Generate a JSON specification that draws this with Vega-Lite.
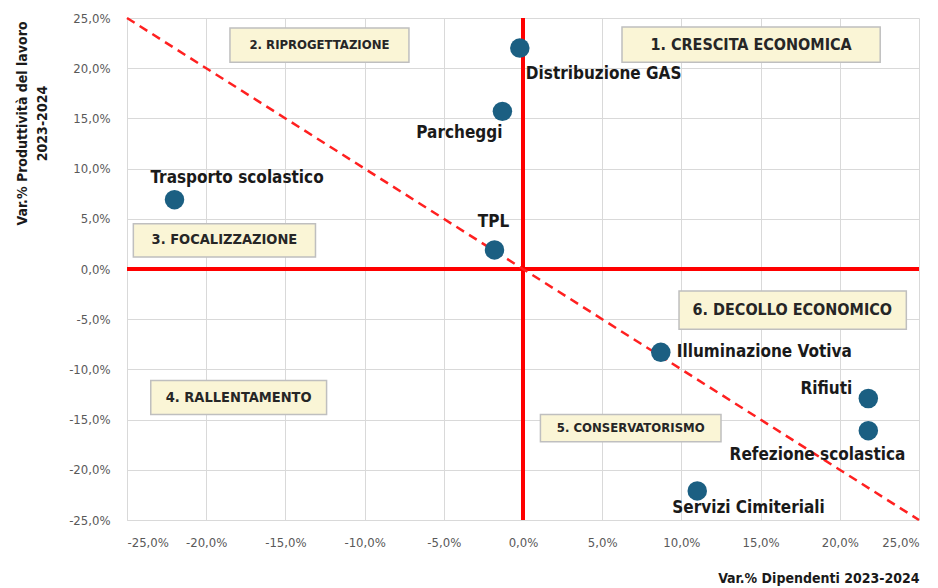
{
  "$schema": "https://vega.github.io/schema/vega-lite/v6.json",
  "width": 792,
  "height": 502,
  "autosize": {"type": "none"},
  "padding": {"left": 127, "top": 18, "right": 19, "bottom": 68},
  "background": "white",
  "config": {
    "view": {"stroke": null},
    "font": "Liberation Sans Narrow, DejaVu Sans Condensed, sans-serif",
    "text": {"font": "Liberation Sans Narrow, DejaVu Sans Condensed, sans-serif"}
  },
  "datasets": {
    "points": [
      {"name": "Distribuzione GAS", "x": -0.2, "y": 22.0},
      {"name": "Parcheggi", "x": -1.3, "y": 15.7},
      {"name": "Trasporto scolastico", "x": -22.0, "y": 6.9},
      {"name": "TPL", "x": -1.8, "y": 1.9},
      {"name": "Illuminazione Votiva", "x": 8.7, "y": -8.3},
      {"name": "Rifiuti", "x": 21.8, "y": -12.9},
      {"name": "Refezione scolastica", "x": 21.8, "y": -16.1},
      {"name": "Servizi Cimiteriali", "x": 11.0, "y": -22.1}
    ],
    "boxes": [
      {"label": "1. CRESCITA ECONOMICA", "x": 6.25, "x2": 22.55, "y": 24.1, "y2": 20.6, "cx": 14.4, "cy": 22.35},
      {"label": "2. RIPROGETTAZIONE", "x": -18.5, "x2": -7.2, "y": 24.0, "y2": 20.6, "cx": -12.85, "cy": 22.3},
      {"label": "3. FOCALIZZAZIONE", "x": -24.6, "x2": -13.1, "y": 4.5, "y2": 1.2, "cx": -18.85, "cy": 2.85},
      {"label": "4. RALLENTAMENTO", "x": -23.5, "x2": -12.4, "y": -11.1, "y2": -14.5, "cx": -17.95, "cy": -12.8},
      {"label": "5. CONSERVATORISMO", "x": 1.1, "x2": 12.5, "y": -14.5, "y2": -17.2, "cx": 6.8, "cy": -15.85},
      {"label": "6. DECOLLO ECONOMICO", "x": 9.85, "x2": 24.2, "y": -2.2, "y2": -6.0, "cx": 17.0, "cy": -4.1}
    ],
    "diag": [
      {"x": -25, "y": 25},
      {"x": 25, "y": -25}
    ],
    "redlines": [
      {"seg": "h", "x": -25, "y": 0},
      {"seg": "h", "x": 25, "y": 0},
      {"seg": "v", "x": 0, "y": -25},
      {"seg": "v", "x": 0, "y": 25}
    ]
  },
  "encoding": {
    "x": {
      "field": "x",
      "type": "quantitative",
      "scale": {"domain": [-25, 25], "nice": false, "zero": false},
      "axis": {
        "values": [-25, -20, -15, -10, -5, 0, 5, 10, 15, 20, 25],
        "labelExpr": "replace(replace(format(datum.value, '.1f'), '.', ','), '\u2212', '-') + '%'",
        "labelFontSize": 13,
        "labelColor": "#595959",
        "labelPadding": 16,
        "ticks": false,
        "domainColor": "#D9D9D9",
        "gridColor": "#D9D9D9",
        "title": "Var.% Dipendenti 2023-2024",
        "titleFontSize": 14,
        "titleFontWeight": "bold",
        "titleColor": "#1a1a1a",
        "titleAnchor": "end",
        "titleAlign": "right",
        "titleX": 792,
        "titleY": 58,
        "titleBaseline": "middle"
      }
    },
    "y": {
      "field": "y",
      "type": "quantitative",
      "scale": {"domain": [-25, 25], "nice": false, "zero": false},
      "axis": {
        "values": [-25, -20, -15, -10, -5, 0, 5, 10, 15, 20, 25],
        "labelExpr": "replace(replace(format(datum.value, '.1f'), '.', ','), '\u2212', '-') + '%'",
        "labelFontSize": 13,
        "labelColor": "#595959",
        "labelPadding": 17,
        "ticks": false,
        "domainColor": "#D9D9D9",
        "gridColor": "#D9D9D9",
        "title": ["Var.% Produttività del lavoro", "2023-2024"],
        "titleFontSize": 14,
        "titleFontWeight": "bold",
        "titleColor": "#1a1a1a",
        "titleAngle": -90,
        "titleAlign": "center",
        "titleBaseline": "middle",
        "titleLineHeight": 20,
        "titleX": -105,
        "titleY": 105
      }
    }
  },
  "layer": [
    {
      "data": {"name": "redlines"},
      "mark": {"type": "line", "color": "#FF0000", "strokeWidth": 4, "clip": true},
      "encoding": {"detail": {"field": "seg"}}
    },
    {
      "data": {"name": "diag"},
      "mark": {"type": "line", "color": "#FF2020", "strokeWidth": 2.5, "strokeDash": [9, 6]},
      "encoding": {}
    },
    {
      "data": {"name": "boxes"},
      "mark": {"type": "rect", "fill": "#FAF5D6", "stroke": "#BFBFBF", "strokeWidth": 1.5},
      "encoding": {
        "x2": {"field": "x2"},
        "y2": {"field": "y2"}
      }
    },
    {
      "data": {"name": "boxes"},
      "transform": [{"filter": "indexof(['1. CRESCITA ECONOMICA', '6. DECOLLO ECONOMICO'], datum.label) >= 0"}],
      "mark": {"type": "text", "fontSize": 16, "fontWeight": "bold", "color": "#262626", "align": "center", "baseline": "middle"},
      "encoding": {
        "x": {"field": "cx", "type": "quantitative"},
        "y": {"field": "cy", "type": "quantitative"},
        "text": {"field": "label"}
      }
    },
    {
      "data": {"name": "boxes"},
      "transform": [{"filter": "indexof(['3. FOCALIZZAZIONE', '4. RALLENTAMENTO'], datum.label) >= 0"}],
      "mark": {"type": "text", "fontSize": 14.5, "fontWeight": "bold", "color": "#262626", "align": "center", "baseline": "middle"},
      "encoding": {
        "x": {"field": "cx", "type": "quantitative"},
        "y": {"field": "cy", "type": "quantitative"},
        "text": {"field": "label"}
      }
    },
    {
      "data": {"name": "boxes"},
      "transform": [{"filter": "indexof(['2. RIPROGETTAZIONE', '5. CONSERVATORISMO'], datum.label) >= 0"}],
      "mark": {"type": "text", "fontSize": 13, "fontWeight": "bold", "color": "#262626", "align": "center", "baseline": "middle"},
      "encoding": {
        "x": {"field": "cx", "type": "quantitative"},
        "y": {"field": "cy", "type": "quantitative"},
        "text": {"field": "label"}
      }
    },
    {
      "data": {"name": "points"},
      "mark": {"type": "circle", "size": 380, "color": "#1B5F82", "opacity": 1},
      "encoding": {}
    },
    {
      "data": {"name": "points"},
      "transform": [{"filter": "datum.name == 'Distribuzione GAS'"}],
      "mark": {"type": "text", "fontSize": 17, "fontWeight": "bold", "color": "#1a1a1a", "align": "left", "baseline": "middle", "dx": 6, "dy": 26},
      "encoding": {"text": {"field": "name"}}
    },
    {
      "data": {"name": "points"},
      "transform": [{"filter": "datum.name == 'Parcheggi'"}],
      "mark": {"type": "text", "fontSize": 17, "fontWeight": "bold", "color": "#1a1a1a", "align": "right", "baseline": "middle", "dx": 0, "dy": 22},
      "encoding": {"text": {"field": "name"}}
    },
    {
      "data": {"name": "points"},
      "transform": [{"filter": "datum.name == 'Trasporto scolastico'"}],
      "mark": {"type": "text", "fontSize": 17, "fontWeight": "bold", "color": "#1a1a1a", "align": "left", "baseline": "middle", "dx": -24, "dy": -22},
      "encoding": {"text": {"field": "name"}}
    },
    {
      "data": {"name": "points"},
      "transform": [{"filter": "datum.name == 'TPL'"}],
      "mark": {"type": "text", "fontSize": 17, "fontWeight": "bold", "color": "#1a1a1a", "align": "center", "baseline": "middle", "dx": -1, "dy": -28},
      "encoding": {"text": {"field": "name"}}
    },
    {
      "data": {"name": "points"},
      "transform": [{"filter": "datum.name == 'Illuminazione Votiva'"}],
      "mark": {"type": "text", "fontSize": 17, "fontWeight": "bold", "color": "#1a1a1a", "align": "left", "baseline": "middle", "dx": 16, "dy": 0},
      "encoding": {"text": {"field": "name"}}
    },
    {
      "data": {"name": "points"},
      "transform": [{"filter": "datum.name == 'Rifiuti'"}],
      "mark": {"type": "text", "fontSize": 17, "fontWeight": "bold", "color": "#1a1a1a", "align": "right", "baseline": "middle", "dx": -16, "dy": -10},
      "encoding": {"text": {"field": "name"}}
    },
    {
      "data": {"name": "points"},
      "transform": [{"filter": "datum.name == 'Refezione scolastica'"}],
      "mark": {"type": "text", "fontSize": 17, "fontWeight": "bold", "color": "#1a1a1a", "align": "right", "baseline": "middle", "dx": 37, "dy": 24},
      "encoding": {"text": {"field": "name"}}
    },
    {
      "data": {"name": "points"},
      "transform": [{"filter": "datum.name == 'Servizi Cimiteriali'"}],
      "mark": {"type": "text", "fontSize": 17, "fontWeight": "bold", "color": "#1a1a1a", "align": "left", "baseline": "middle", "dx": -25, "dy": 17},
      "encoding": {"text": {"field": "name"}}
    }
  ]
}
